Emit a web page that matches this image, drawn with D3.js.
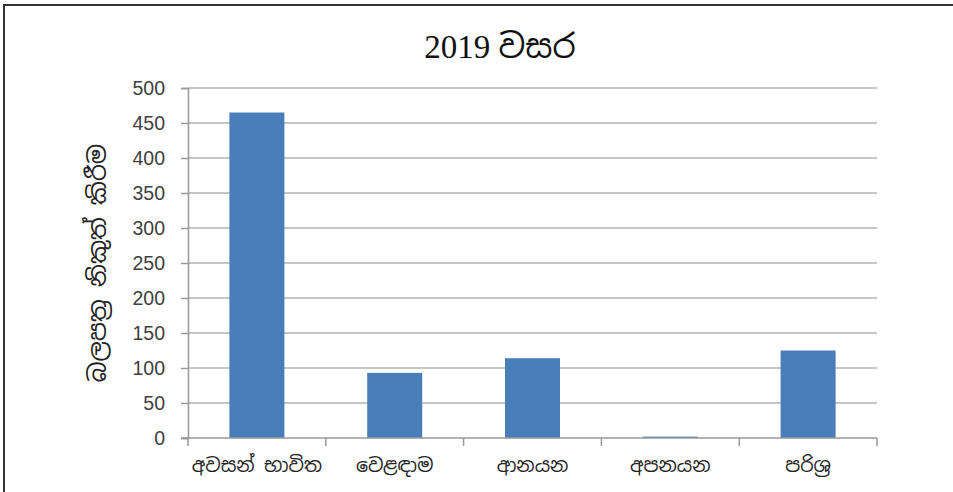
<!DOCTYPE html>
<html>
<head>
<meta charset="utf-8">
<script src="https://cdn.jsdelivr.net/npm/d3@7"></script>
<style>
  body { margin: 0; background: #fff; }
  text { font-family: "Noto Sans Sinhala", "Iskoola Pota", "Noto Sans", sans-serif; }
</style>
</head>
<body>
<div id="vis_container"></div>
<script>
// chart data
var categories = ["අවසන් භාවිත", "වෙළඳාම", "ආනයන", "අපනයන", "පරිශ්‍ර"];
var values = [465, 93, 114, 2, 125];
var yTicks = [0, 50, 100, 150, 200, 250, 300, 350, 400, 450, 500];
var title = "2019 වසර";
var yTitle = "බලපත්‍ර නිකුත් කිරීම";

var width = 953, height = 492;
var plotLeft = 188, plotRight = 877, plotTop = 88, plotBottom = 438;

var svg = d3.select("#vis_container").append("svg")
    .attr("width", width)
    .attr("height", height);

// frame (only top and left edges visible)
svg.append("path")
    .attr("d", "M4," + height + "V5H" + width)
    .attr("fill", "none")
    .attr("stroke", "#333")
    .attr("stroke-width", 2);

var x = d3.scaleBand()
    .domain(categories)
    .range([plotLeft, plotRight])
    .paddingInner(0)
    .paddingOuter(0);

var y = d3.scaleLinear()
    .domain([0, 500])
    .range([plotBottom, plotTop]);

// gridlines
svg.append("g")
    .selectAll("line")
    .data(yTicks.filter(function(d) { return d > 0; }))
    .enter().append("line")
    .attr("x1", plotLeft)
    .attr("x2", plotRight)
    .attr("y1", function(d) { return y(d); })
    .attr("y2", function(d) { return y(d); })
    .attr("stroke", "#b3b3b3")
    .attr("stroke-width", 1.5);

// bars
var barW = 55;
svg.append("g")
    .selectAll("rect")
    .data(values)
    .enter().append("rect")
    .attr("x", function(d, i) { return x(categories[i]) + (x.bandwidth() - barW) / 2; })
    .attr("y", function(d) { return y(d); })
    .attr("width", barW)
    .attr("height", function(d) { return y(0) - y(d); })
    .attr("fill", "#4a7ebb");

// y axis
var yAxis = svg.append("g")
    .attr("transform", "translate(" + plotLeft + ",0)")
    .call(d3.axisLeft(y).tickValues(yTicks).tickSize(7).tickPadding(16));
yAxis.select(".domain").attr("stroke", "#999").attr("stroke-width", 1.5);
yAxis.selectAll(".tick line").attr("stroke", "#999").attr("stroke-width", 1.5);
yAxis.selectAll(".tick text")
    .attr("fill", "#404040")
    .style("font-family", "'Liberation Sans', Arial, sans-serif")
    .style("font-size", "19.5px");

// x axis with ticks at category boundaries
var xAxis = svg.append("g")
    .attr("transform", "translate(0," + plotBottom + ")");
xAxis.append("line")
    .attr("x1", plotLeft - 7).attr("x2", plotRight)
    .attr("stroke", "#999").attr("stroke-width", 1.5);
var bounds = categories.map(function(c) { return x(c); }).concat([plotRight]);
xAxis.selectAll(".xtick")
    .data(bounds)
    .enter().append("line")
    .attr("class", "xtick")
    .attr("x1", function(d) { return d; })
    .attr("x2", function(d) { return d; })
    .attr("y1", 0).attr("y2", 8)
    .attr("stroke", "#999").attr("stroke-width", 1.5);
xAxis.selectAll(".xlabel")
    .data(categories)
    .enter().append("text")
    .attr("class", "xlabel")
    .attr("x", function(d) { return x(d) + x.bandwidth() / 2; })
    .attr("y", 34)
    .attr("text-anchor", "middle")
    .attr("fill", "#222")
    .style("font-size", "19px")
    .text(function(d) { return d; });

// title
svg.append("text")
    .attr("x", 500)
    .attr("y", 58)
    .attr("text-anchor", "middle")
    .attr("fill", "#111")
    .style("font-size", "33px")
    .style("font-family", "'Liberation Serif', 'Noto Sans Sinhala', serif")
    .text(title);

// y axis title
svg.append("text")
    .attr("transform", "translate(106,263) rotate(-90)")
    .attr("text-anchor", "middle")
    .attr("fill", "#222")
    .style("font-size", "24px")
    .text(yTitle);
</script>
</body>
</html>
